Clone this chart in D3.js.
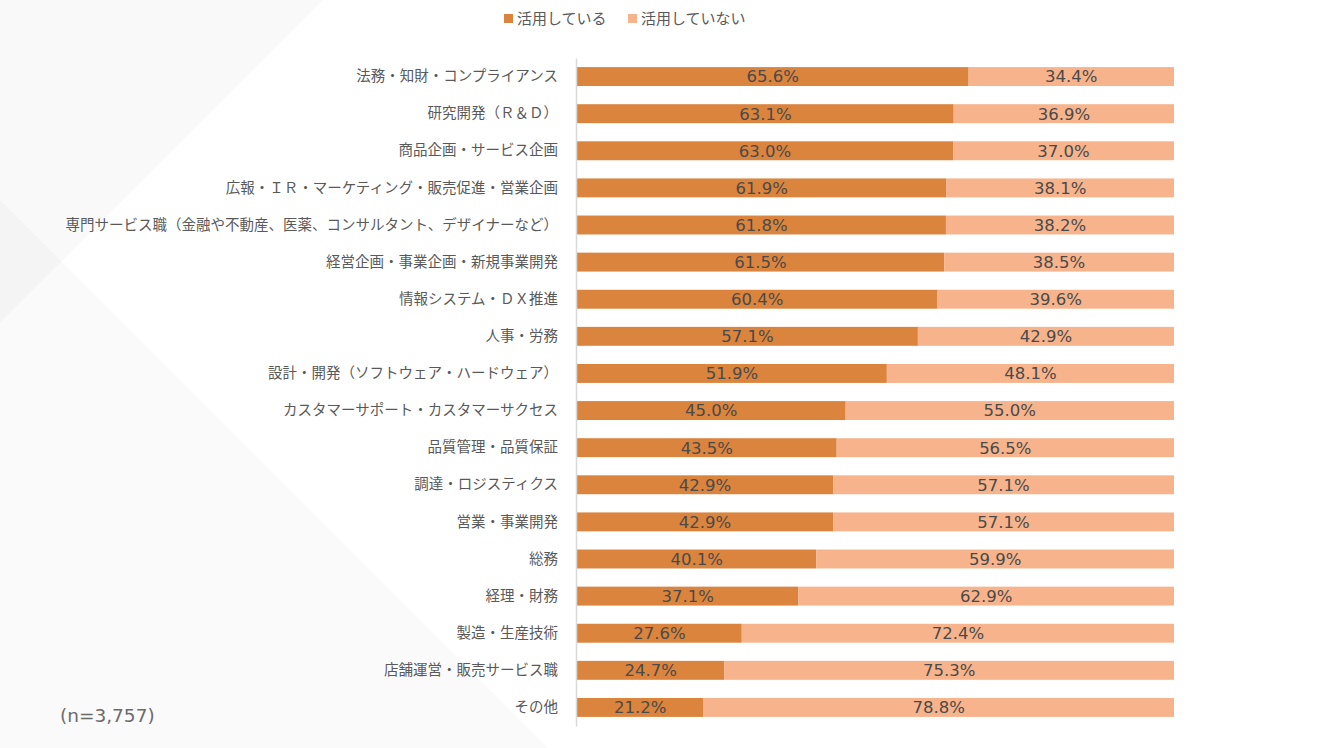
<!DOCTYPE html>
<html>
<head>
<meta charset="utf-8">
<script src="https://cdn.jsdelivr.net/npm/d3@7/dist/d3.min.js"></script>
<style>
  html, body { margin: 0; padding: 0; background: #ffffff; }
</style>
</head>
<body>
<svg id="chart"></svg>
<script>
const categories = [
  '法務・知財・コンプライアンス',
  '研究開発（Ｒ＆Ｄ）',
  '商品企画・サービス企画',
  '広報・ＩＲ・マーケティング・販売促進・営業企画',
  '専門サービス職（金融や不動産、医薬、コンサルタント、デザイナーなど）',
  '経営企画・事業企画・新規事業開発',
  '情報システム・ＤＸ推進',
  '人事・労務',
  '設計・開発（ソフトウェア・ハードウェア）',
  'カスタマーサポート・カスタマーサクセス',
  '品質管理・品質保証',
  '調達・ロジスティクス',
  '営業・事業開発',
  '総務',
  '経理・財務',
  '製造・生産技術',
  '店舗運営・販売サービス職',
  'その他'
];
const usedValues = [65.6, 63.1, 63.0, 61.9, 61.8, 61.5, 60.4, 57.1, 51.9, 45.0, 43.5, 42.9, 42.9, 40.1, 37.1, 27.6, 24.7, 21.2];
const notUsedValues = [34.4, 36.9, 37.0, 38.1, 38.2, 38.5, 39.6, 42.9, 48.1, 55.0, 56.5, 57.1, 57.1, 59.9, 62.9, 72.4, 75.3, 78.8];
const seriesNames = ['活用している', '活用していない'];
const sampleNote = '(n=3,757)';

const width = 1336;
const height = 748;
const colors = ['#db843d', '#f7b48c'];

const svg = d3.select('#chart')
  .attr('width', width)
  .attr('height', height)
  .style('display', 'block');

// faint background shapes
svg.append('rect').attr('width', width).attr('height', height).attr('fill', '#ffffff');
svg.append('path')
  .attr('d', 'M0,0 L323,0 L0,323 Z')
  .attr('fill', 'rgba(0,0,0,0.022)');
svg.append('path')
  .attr('d', 'M0,200 L548,748 L0,748 Z')
  .attr('fill', 'rgba(0,0,0,0.02)');

const x = d3.scaleLinear().domain([0, 100]).range([577, 1174]);
const y = d3.scaleBand().domain(categories).range([58, 726]).paddingInner(0.49).paddingOuter(0.245);

const rows = categories.map((c, i) => ({ name: c, used: usedValues[i], notUsed: notUsedValues[i] }));

// bars
const barGroup = svg.append('g');
barGroup.selectAll('rect.used')
  .data(rows)
  .join('rect')
  .attr('class', 'used')
  .attr('x', x(0))
  .attr('y', d => y(d.name))
  .attr('width', d => x(d.used) - x(0))
  .attr('height', y.bandwidth())
  .attr('fill', colors[0]);

barGroup.selectAll('rect.notused')
  .data(rows)
  .join('rect')
  .attr('class', 'notused')
  .attr('x', d => x(d.used))
  .attr('y', d => y(d.name))
  .attr('width', d => x(d.used + d.notUsed) - x(d.used))
  .attr('height', y.bandwidth())
  .attr('fill', colors[1]);

// value labels
const labelFont = '"DejaVu Sans", Verdana, sans-serif';
barGroup.selectAll('text.usedLabel')
  .data(rows)
  .join('text')
  .attr('x', d => (x(0) + x(d.used)) / 2)
  .attr('y', d => y(d.name) + y.bandwidth() / 2)
  .attr('dy', '0.36em')
  .attr('text-anchor', 'middle')
  .attr('font-family', labelFont)
  .attr('font-size', '16.5px')
  .attr('fill', '#4a4a4a')
  .text(d => d.used.toFixed(1) + '%');

barGroup.selectAll('text.notUsedLabel')
  .data(rows)
  .join('text')
  .attr('x', d => (x(d.used) + x(d.used + d.notUsed)) / 2)
  .attr('y', d => y(d.name) + y.bandwidth() / 2)
  .attr('dy', '0.36em')
  .attr('text-anchor', 'middle')
  .attr('font-family', labelFont)
  .attr('font-size', '16.5px')
  .attr('fill', '#4a4a4a')
  .text(d => d.notUsed.toFixed(1) + '%');

// category axis
const yAxis = svg.append('g')
  .attr('transform', `translate(${x(0) - 1},0)`)
  .call(d3.axisLeft(y).tickSize(0).tickPadding(18));
yAxis.select('.domain').attr('stroke', '#d9d9d9').attr('stroke-width', 1.5);
yAxis.selectAll('text')
  .attr('font-family', '"Noto Sans CJK JP", sans-serif')
  .attr('font-size', '14.5px')
  .attr('fill', '#595959');

// legend
const legend = svg.append('g').attr('transform', 'translate(504,19)');
const legendX = [0, 124];
seriesNames.forEach((name, i) => {
  const g = legend.append('g').attr('transform', `translate(${legendX[i]},0)`);
  g.append('rect')
    .attr('x', 0).attr('y', -5)
    .attr('width', 9).attr('height', 9)
    .attr('fill', colors[i]);
  g.append('text')
    .attr('x', 13).attr('y', 0)
    .attr('dy', '0.35em')
    .attr('font-family', '"Noto Sans CJK JP", sans-serif')
    .attr('font-size', '15px')
    .attr('fill', '#595959')
    .text(name);
});

// sample note
svg.append('text')
  .attr('x', 60)
  .attr('y', 716)
  .attr('dy', '0.35em')
  .attr('font-family', labelFont)
  .attr('font-size', '18.5px')
  .attr('fill', '#6b6b6b')
  .text(sampleNote);
</script>
</body>
</html>
